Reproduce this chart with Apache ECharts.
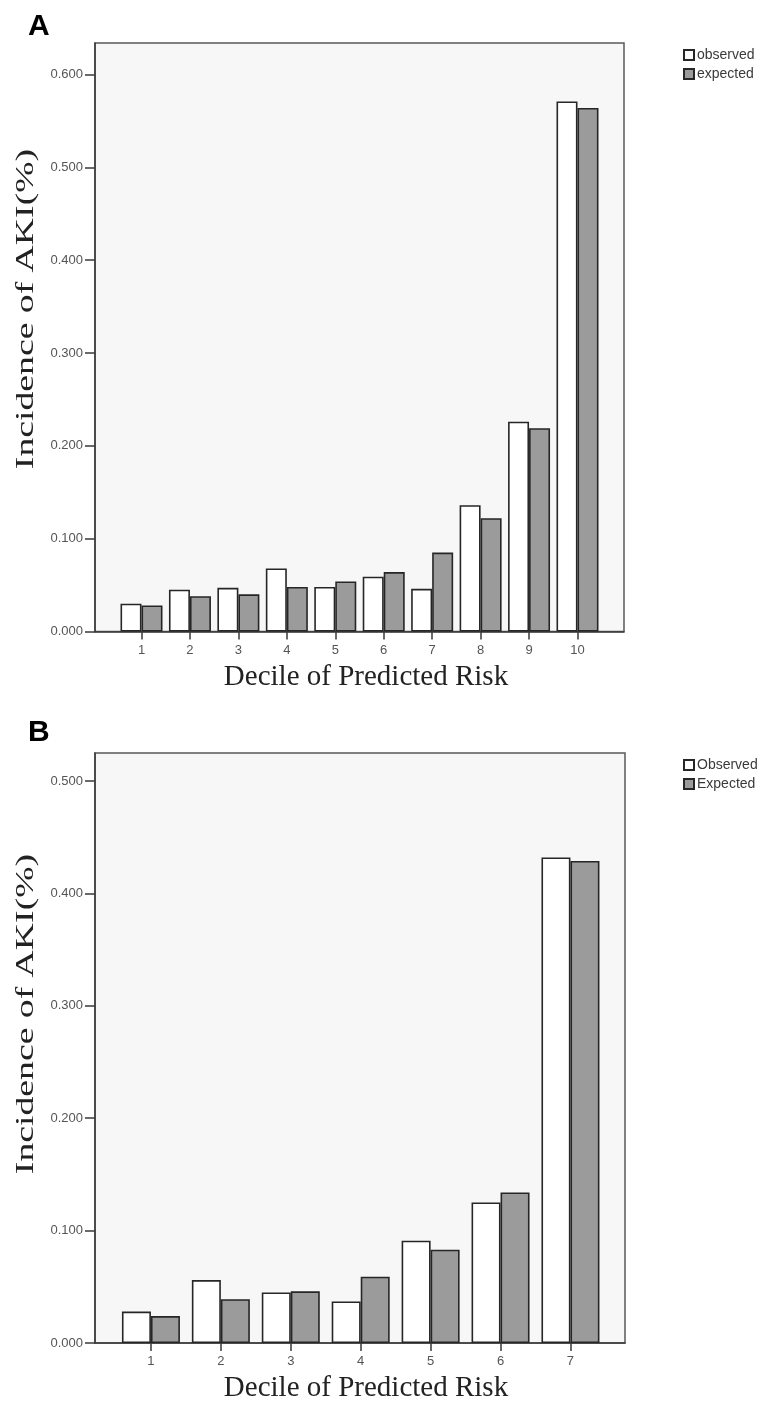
<!DOCTYPE html>
<html>
<head>
<meta charset="utf-8">
<script src="https://cdn.jsdelivr.net/npm/echarts@6/dist/echarts.min.js"></script>
<style>
html,body{margin:0;padding:0;background:#fff;}
#chart{width:768px;height:1406px;}
</style>
</head>
<body>
<div id="chart"></div>
<script>
// Panel A data
const catsA = [1, 2, 3, 4, 5, 6, 7, 8, 9, 10];
const observedA = [0.030, 0.045, 0.047, 0.068, 0.048, 0.059, 0.046, 0.136, 0.226, 0.571];
const expectedA = [0.028, 0.038, 0.040, 0.048, 0.054, 0.064, 0.085, 0.122, 0.219, 0.564];
const yTicksA = [0, 0.1, 0.2, 0.3, 0.4, 0.5, 0.6];

// Panel B data
const catsB = [1, 2, 3, 4, 5, 6, 7];
const observedB = [0.028, 0.056, 0.045, 0.037, 0.091, 0.125, 0.432];
const expectedB = [0.024, 0.039, 0.046, 0.059, 0.083, 0.134, 0.429];
const yTicksB = [0, 0.1, 0.2, 0.3, 0.4, 0.5];

const yTitle = 'Incidence of AKI(%)';
const xTitle = 'Decile of Predicted Risk';

const serif = '"Liberation Serif", "DejaVu Serif", serif';
const sans = '"Liberation Sans", Arial, sans-serif';
const dark = '#3a3a3a';

function pairs(cats, vals) { return cats.map((c, i) => [c, vals[i]]); }

function xAxisFor(gridIndex, cats, min, max) {
  return {
    type: 'value', gridIndex, min, max,
    axisLine: { show: true, onZero: false, lineStyle: { color: dark, width: 1.5 } },
    axisTick: { show: true, inside: false, length: 8, customValues: cats, lineStyle: { color: dark, width: 1.5 } },
    axisLabel: { customValues: cats, margin: 12, fontFamily: sans, fontSize: 13, color: '#555' },
    splitLine: { show: false }
  };
}
function yAxisFor(gridIndex, ticks, max) {
  return {
    type: 'value', gridIndex, min: 0, max,
    axisLine: { show: true, lineStyle: { color: dark, width: 1.5 } },
    axisTick: { show: true, length: 10, customValues: ticks, lineStyle: { color: dark, width: 1.5 } },
    axisLabel: { customValues: ticks, margin: 12, fontFamily: sans, fontSize: 13, color: '#555',
      formatter: v => Number(v).toFixed(3) },
    splitLine: { show: false }
  };
}
function barSeries(name, xi, data, fill, width) {
  return {
    type: 'bar', name, xAxisIndex: xi, yAxisIndex: xi, data,
    barWidth: width, barGap: '0%',
    itemStyle: { color: fill, borderColor: '#262626', borderWidth: 1.6 },
    emphasis: { disabled: true }
  };
}
function yTitleText(cy) {
  return { type: 'text', x: 26, y: cy, rotation: Math.PI / 2, scaleX: 1.45, silent: true,
    style: { text: yTitle, font: '26px ' + serif, fill: '#222', align: 'center', verticalAlign: 'middle' } };
}
function xTitleText(cy) {
  return { type: 'text', x: 366, y: cy, silent: true,
    style: { text: xTitle, font: '29px ' + serif, fill: '#222', align: 'center', verticalAlign: 'middle' } };
}

const chart = echarts.init(document.getElementById('chart'), null, { renderer: 'canvas' });
chart.setOption({
  animation: false,
  backgroundColor: '#fff',
  title: [
    { text: 'A', left: 23, top: 7, textStyle: { fontFamily: sans, fontWeight: 'bold', fontSize: 30, color: '#000' } },
    { text: 'B', left: 23, top: 713, textStyle: { fontFamily: sans, fontWeight: 'bold', fontSize: 30, color: '#000' } }
  ],
  legend: [
    { data: ['observed', 'expected'], orient: 'vertical', left: 678, top: 43, itemWidth: 10, itemHeight: 10, itemGap: 5,
      icon: 'rect', textStyle: { fontFamily: sans, fontSize: 14, color: '#3a3a3a', padding: [0, 0, 0, -2] } },
    { data: ['Observed', 'Expected'], orient: 'vertical', left: 678, top: 753, itemWidth: 10, itemHeight: 10, itemGap: 5,
      icon: 'rect', textStyle: { fontFamily: sans, fontSize: 14, color: '#3a3a3a', padding: [0, 0, 0, -2] } }
  ],
  grid: [
    { left: 95, top: 43, width: 529, height: 588.5, show: true, backgroundColor: '#f7f7f7', borderColor: '#5a5a5a', borderWidth: 1.5 },
    { left: 95, top: 753, width: 530, height: 590, show: true, backgroundColor: '#f7f7f7', borderColor: '#5a5a5a', borderWidth: 1.5 }
  ],
  xAxis: [ xAxisFor(0, catsA, 0.04, 10.96), xAxisFor(1, catsB, 0.2, 7.78) ],
  yAxis: [ yAxisFor(0, yTicksA, 0.634), yAxisFor(1, yTicksB, 0.525) ],
  graphic: [ yTitleText(309), yTitleText(1014), xTitleText(677), xTitleText(1388) ],
  series: [
    barSeries('observed', 0, pairs(catsA, observedA), '#ffffff', 21),
    barSeries('expected', 0, pairs(catsA, expectedA), '#9b9b9b', 21),
    barSeries('Observed', 1, pairs(catsB, observedB), '#ffffff', 29),
    barSeries('Expected', 1, pairs(catsB, expectedB), '#9b9b9b', 29)
  ]
});
</script>
</body>
</html>
